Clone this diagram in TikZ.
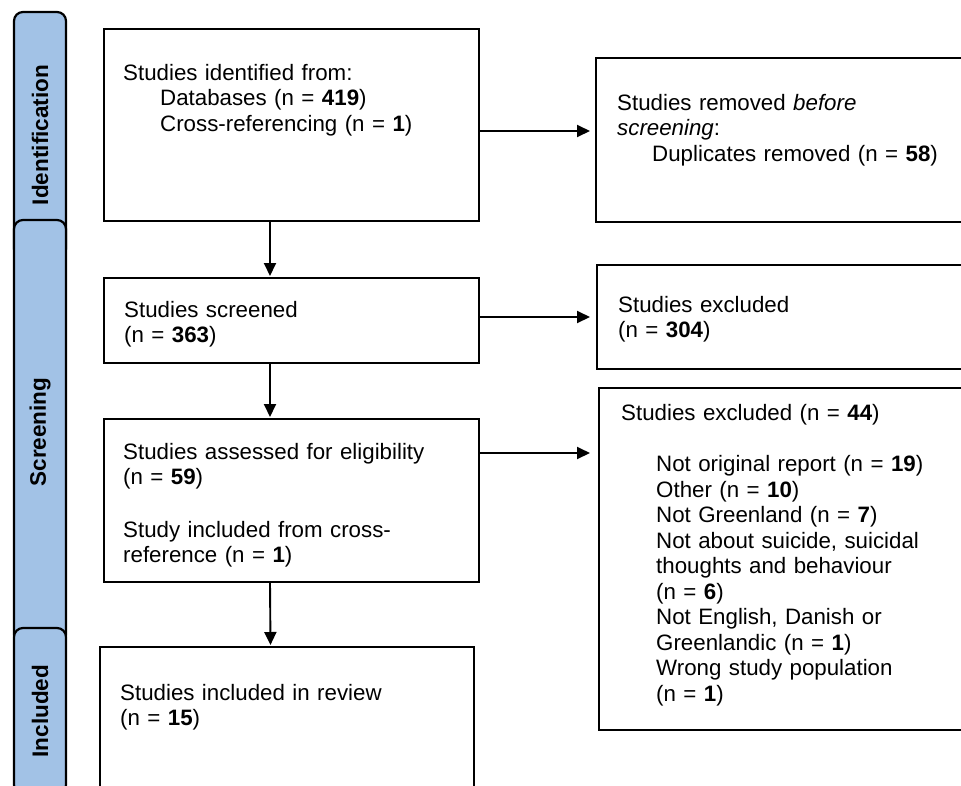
\documentclass[tikz,border=0pt]{standalone}
\usepackage{fontspec}
\setmainfont{Liberation Sans}
\usetikzlibrary{arrows.meta,positioning}
\definecolor{stageblue}{RGB}{162,194,230}

\begin{document}
\begin{tikzpicture}[x=1pt, y=-1pt,
    box/.style={draw, line width=2.2pt, anchor=north west, inner sep=0pt, outer sep=0pt},
    txt/.style={anchor=base west, inner sep=0pt, align=left, text width=340pt, font=\fontsize{22.3}{25.5}\selectfont},
    stage/.style={draw, line width=2.2pt, fill=stageblue, rounded corners=9pt, rotate=90, minimum height=52pt, inner sep=0pt, font=\fontsize{22.5}{25}\selectfont\bfseries},
    arr/.style={-{Triangle[length=13pt,width=12pt]}, line width=1.9pt}
]
\clip (0,0) rectangle (961,785);

% stage bars on the left
\node[stage, minimum width=246pt] (identbar) at (40,135) {Identification};
\node[stage, minimum width=424pt] (screenbar) at (40,432) {Screening};
\node[stage, minimum width=166pt] (inclbar) at (40,711) {Included};

% boxes
\node[box, minimum width=375pt, minimum height=192pt] (ident) at (104,29) {};
\node[box, minimum width=400pt, minimum height=164pt] (removed) at (596,58) {};
\node[box, minimum width=375pt, minimum height=85pt] (screen) at (104,278) {};
\node[box, minimum width=400pt, minimum height=104pt] (excl1) at (597,265) {};
\node[box, minimum width=375pt, minimum height=163pt] (assessed) at (104,419) {};
\node[box, minimum width=400pt, minimum height=342pt] (excl2) at (599,388) {};
\node[box, minimum width=374pt, minimum height=200pt] (incl) at (100,647) {};

% texts
\node[txt] (identtxt) at (123,80) {Studies identified from:\\
  \hspace*{37pt}Databases (n = \textbf{419})\\
  \hspace*{37pt}Cross-referencing (n = \textbf{1})};
\node[txt] (removedtxt) at (617,110) {Studies removed \textit{before}\\
  \textit{screening}:\\
  \hspace*{35pt}Duplicates removed (n = \textbf{58})};
\node[txt] (screentxt) at (124,317) {Studies screened\\ (n = \textbf{363})};
\node[txt] (excl1txt) at (618,312) {Studies excluded\\ (n = \textbf{304})};
\node[txt] (assessedtxt) at (123,459) {Studies assessed for eligibility\\
  (n = \textbf{59})\\[27pt]
  Study included from cross-\\
  reference (n = \textbf{1})};
\node[txt] (excl2txt) at (621,420) {Studies excluded (n = \textbf{44})\\[26pt]
  \hspace*{35pt}Not original report (n = \textbf{19})\\
  \hspace*{35pt}Other (n = \textbf{10})\\
  \hspace*{35pt}Not Greenland (n = \textbf{7})\\
  \hspace*{35pt}Not about suicide, suicidal\\
  \hspace*{35pt}thoughts and behaviour\\
  \hspace*{35pt}(n = \textbf{6})\\
  \hspace*{35pt}Not English, Danish or\\
  \hspace*{35pt}Greenlandic (n = \textbf{1})\\
  \hspace*{35pt}Wrong study population\\
  \hspace*{35pt}(n = \textbf{1})};
\node[txt] (incltxt) at (120,700) {Studies included in review\\ (n = \textbf{15})};

% arrows
\draw[arr, shorten >=2pt] ([xshift=-21.5pt]ident.south) -- ([xshift=-21.5pt]screen.north);
\draw[arr, shorten >=2pt] ([xshift=-21.5pt]screen.south) -- ([xshift=-21.5pt]assessed.north);
\draw[arr, shorten >=2pt] ([xshift=-21.5pt]assessed.south) -- ([xshift=-16.5pt]incl.north);
\coordinate (h1) at ([yshift=-102pt]ident.north east);
\draw[arr, shorten >=6pt] (h1) -- (h1 -| removed.west);
\draw[arr, shorten >=7pt] (excl1.west -| screen.east) -- (excl1.west);
\coordinate (h3) at ([yshift=-34pt]assessed.north east);
\draw[arr, shorten >=9pt] (h3) -- (h3 -| excl2.west);
\end{tikzpicture}
\end{document}
